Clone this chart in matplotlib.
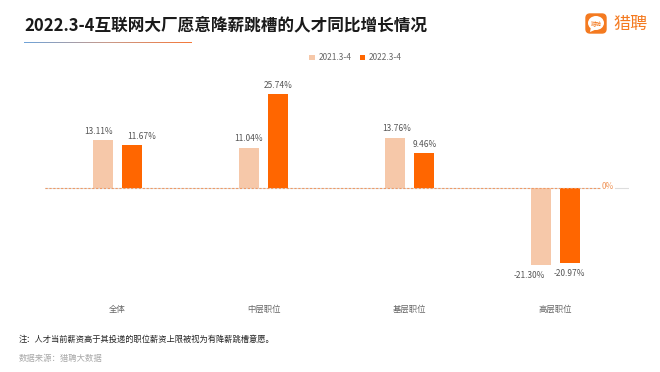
import numpy as np
import matplotlib
matplotlib.use('Agg')
import matplotlib.pyplot as plt
from matplotlib.colors import LinearSegmentedColormap
from matplotlib.patches import FancyBboxPatch, Ellipse, Polygon

plt.rcParams['font.family'] = ['Noto Sans CJK SC', 'DejaVu Sans']

W, H = 660, 372

categories = ['全体', '中层职位', '基层职位', '高层职位']
series_names = ['2021.3-4', '2022.3-4']
values_2021 = [13.11, 11.04, 13.76, -21.30]
values_2022 = [11.67, 25.74, 9.46, -20.97]
labels_2021 = ['13.11%', '11.04%', '13.76%', '-21.30%']
labels_2022 = ['11.67%', '25.74%', '9.46%', '-20.97%']

title = '2022.3-4互联网大厂愿意降薪跳槽的人才同比增长情况'
note = '注：人才当前薪资高于其投递的职位薪资上限被视为有降薪跳槽意愿。'
source = '数据来源：猎聘大数据'

LIGHT = '#f6c8a9'
DARK = '#ff6600'


def px_axes(fig, x0, y0, x1, y1):
    # pixel box measured from the top left
    return fig.add_axes([x0 / W, 1 - y1 / H, (x1 - x0) / W, (y1 - y0) / H])


def put_labels(ax, bars, labels, shifts):
    # labels were nudged sideways by hand in the original, shifts are in pixels
    for bar, text, dx in zip(bars, labels, shifts):
        v = bar.get_height()
        ax.annotate(text, (bar.get_x() + bar.get_width() / 2, v),
                    xytext=(dx * 0.72, 6.5 if v > 0 else -7.5), textcoords='offset points',
                    ha='center', va='center', fontsize=6, color='#555555')


fig = plt.figure(figsize=(W / 100, H / 100), dpi=100, facecolor='white')

ax = px_axes(fig, 44.5, 80, 628.5, 290)
x = np.arange(len(categories))
bars1 = ax.bar(x - 0.1, values_2021, 0.134, color=LIGHT, label=series_names[0], zorder=2)
bars2 = ax.bar(x + 0.1, values_2022, 0.134, color=DARK, label=series_names[1], zorder=2)
ax.set_xlim(-0.5, 3.5)
ax.set_ylim(-28.3, 29.7)
ax.axhline(0, color='#dddddd', lw=0.8, zorder=1)
ax.plot([-0.5, 3.33], [0, 0], color='#ee9a66', lw=0.8, ls=(0, (2, 1.5)), zorder=3)
ax.text(3.36, 0.4, '0%', color='#f0965a', fontsize=6, ha='center', va='center', zorder=4,
        bbox=dict(fc='white', ec='none', pad=0.5))

put_labels(ax, bars1, labels_2021, [-4, 0, 2, -12])
put_labels(ax, bars2, labels_2022, [10, 0, 1, -1])

ax.set_xticks(x)
ax.set_xticklabels(categories, fontsize=6, color='#666666')
ax.tick_params(axis='x', length=0, pad=11)
ax.set_yticks([])
for s in ax.spines.values():
    s.set_visible(False)
ax.patch.set_alpha(0)

ax.legend(loc='upper center', bbox_to_anchor=(0.5325, 1.162), ncol=2, frameon=False, fontsize=6,
          labelcolor='#666666', handlelength=0.7, handleheight=0.7, handletextpad=0.4,
          columnspacing=1.0)

fig.text(24 / W, 1 - 25 / H, title, fontsize=12, fontweight='bold', color='#1a1a1a',
         ha='left', va='center')
fig.text(19 / W, 1 - 339 / H, note, fontsize=5.95, color='#222222', ha='left', va='center')
fig.text(19 / W, 1 - 358 / H, source, fontsize=6, color='#a8a8a8', ha='left', va='center')

# gradient rule under the title
rule = px_axes(fig, 24, 42, 191, 43.5)
cmap = LinearSegmentedColormap.from_list('rule', ['#6fa3d8', '#c99a8a', '#f5793a'])
rule.imshow(np.linspace(0, 1, 200).reshape(1, -1), aspect='auto', cmap=cmap)
rule.axis('off')

# logo
logo = px_axes(fig, 580, 8, 655, 38)
logo.set_xlim(580, 655)
logo.set_ylim(38, 8)
logo.axis('off')
logo.add_patch(FancyBboxPatch((586, 14), 20, 19, boxstyle='round,pad=0,rounding_size=4',
                              fc='#f47a20', ec='#f47a20', lw=1))
logo.add_patch(Ellipse((596, 23), 16, 14, fc='white', ec='none'))
logo.add_patch(Polygon([[591, 27], [597, 29], [590, 32]], fc='white', ec='none'))
logo.text(596, 23, '猎聘', fontsize=4, color='#f47a20', ha='center', va='center')
logo.text(613, 24, '猎聘', fontsize=12.3, color='#f47a20', ha='left', va='center')

fig.savefig('out.png', dpi=100)
